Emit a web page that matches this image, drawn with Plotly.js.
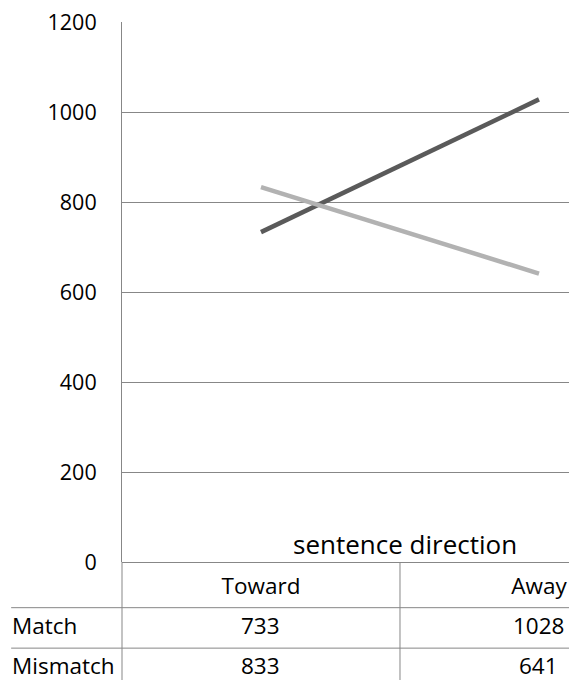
<!DOCTYPE html>
<html>
<head>
<meta charset="utf-8">
<script src="https://cdn.plot.ly/plotly-3.0.1.min.js"></script>
<style>
html,body{margin:0;padding:0;background:#fff;overflow:hidden;}
#chart{width:569px;height:680px;}
</style>
</head>
<body>
<div id="chart"></div>
<script>
// ---- data ----
const categories = ["Toward", "Away"];
const seriesNames = ["Match", "Mismatch"];
const matchValues = [733, 1028];
const mismatchValues = [833, 641];
const yTickValues = [0, 200, 400, 600, 800, 1000, 1200];
const tableTitle = "sentence direction";

// ---- styles ----
const FONT = "Open Sans, sans-serif";
const FS = 22.5;
const TITLE_FS = 26;
const TICK_FS = 21.5;
const GRID = "#878787";
const colors = ["#5a5a5a", "#b2b2b2"];

const traces = [
  {x: categories, y: matchValues, name: seriesNames[0], type: "scatter", mode: "lines",
   line: {color: colors[0], width: 4.5}, hoverinfo: "skip"},
  {x: categories, y: mismatchValues, name: seriesNames[1], type: "scatter", mode: "lines",
   line: {color: colors[1], width: 4.5}, hoverinfo: "skip"}
];

// table geometry in paper coords (plot: y 562 -> 0, 22 -> 1; x 122 -> 0, 569 -> 1)
const rowLineY = [-0.0846, -0.1595];
const rowTextY = [-0.117, -0.191];
const bottomY = -0.23;
const leftX = -0.248;

const shapes = [];
rowLineY.forEach(y => shapes.push({type: "line", xref: "paper", yref: "paper",
  x0: leftX, x1: 1, y0: y, y1: y, line: {color: GRID, width: 1}}));
shapes.push({type: "line", xref: "paper", yref: "paper", x0: 0, x1: 0, y0: bottomY, y1: 0,
  line: {color: GRID, width: 1}});
shapes.push({type: "line", xref: "x", yref: "paper", x0: 0.5, x1: 0.5, y0: bottomY, y1: 0,
  line: {color: GRID, width: 1}});

const annotations = [];
annotations.push({text: tableTitle, x: 0.5, xref: "x", xshift: 5, y: 0.034, yref: "paper",
  showarrow: false, font: {family: FONT, size: TITLE_FS, color: "#000"}, xanchor: "center", yanchor: "middle"});
const seriesVals = [matchValues, mismatchValues];
seriesNames.forEach((nm, i) => {
  annotations.push({text: nm, x: leftX, xref: "paper", xshift: -1, y: rowTextY[i], yref: "paper",
    showarrow: false, xanchor: "left", yanchor: "middle",
    font: {family: FONT, size: FS, color: "#000"}});
  categories.forEach((c, j) => {
    annotations.push({text: String(seriesVals[i][j]), x: j, xref: "x", y: rowTextY[i], yref: "paper",
      showarrow: false, xanchor: "center", yanchor: "middle",
      font: {family: FONT, size: FS, color: "#000"}});
  });
});

const layout = {
  width: 569, height: 680,
  margin: {l: 122, r: 0, t: 22, b: 118, pad: 0},
  paper_bgcolor: "#fff", plot_bgcolor: "#fff",
  showlegend: false,
  font: {family: FONT, size: FS, color: "#000"},
  xaxis: {type: "category", range: [-0.5, 1.108], showgrid: false, zeroline: false,
    showline: false, ticks: "", ticklabelstandoff: 8,
    tickfont: {family: FONT, size: FS, color: "#000"}, fixedrange: true},
  yaxis: {range: [0, 1200], tickvals: yTickValues, ticktext: yTickValues.map(String),
    showgrid: true, gridcolor: GRID, gridwidth: 1, zeroline: true, zerolinecolor: GRID, zerolinewidth: 1,
    showline: true, linecolor: GRID, linewidth: 1, ticks: "", ticklabelstandoff: 20,
    tickfont: {family: FONT, size: TICK_FS, color: "#000"}, fixedrange: true},
  shapes: shapes,
  annotations: annotations
};

Plotly.newPlot("chart", traces, layout, {displayModeBar: false, staticPlot: true});
</script>
</body>
</html>
